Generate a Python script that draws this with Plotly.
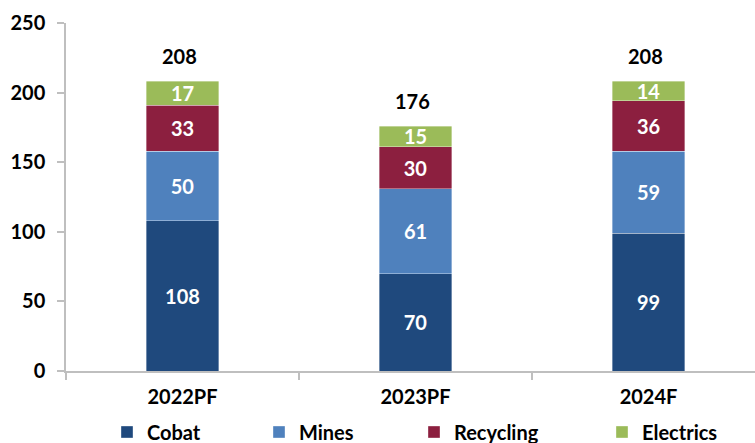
import plotly.graph_objects as go

# Categories and series values
years = ["2022PF", "2023PF", "2024F"]
cobat = [108, 70, 99]
mines = [50, 61, 59]
recycling = [33, 30, 36]
electrics = [17, 15, 14]

series_names = ["Cobat", "Mines", "Recycling", "Electrics"]
series_values = [cobat, mines, recycling, electrics]
series_colors = ["#1F497D", "#4F81BD", "#8C1F3F", "#9BBB59"]

totals = [sum(v) for v in zip(*series_values)]

FONT = "Lato"
TXT = 20
W, H = 755, 443

fig = go.Figure()

legend_ids = ["legend", "legend2", "legend3", "legend4"]
for name, vals, color, lg in zip(series_names, series_values, series_colors, legend_ids):
    fig.add_trace(go.Bar(
        x=years, y=vals, name=name,
        marker=dict(color=color, line=dict(color="rgba(255,255,255,0.6)", width=0.6)),
        width=0.313,
        text=vals, texttemplate="%{text}",
        textposition="inside", insidetextanchor="middle",
        textangle=0, constraintext="none",
        textfont=dict(family=FONT, size=TXT, color="white", weight="bold"),
        legend=lg,
    ))

# Totals above each stack
for yr, tot in zip(years, totals):
    fig.add_annotation(
        x=yr, y=tot, text=str(tot), showarrow=False,
        yanchor="bottom", xanchor="center", yshift=11, xshift=-3,
        font=dict(family=FONT, size=TXT, color="black", weight="bold"),
    )

PLOT_L, PLOT_T, PLOT_B = 66, 23, 371

# legend rows placed in container pixels so they don't shrink the plot area
legend_text_x = [147, 299, 454, 642]
legend_layout = {}
for lg, tx in zip(legend_ids, legend_text_x):
    legend_layout[lg] = dict(
        xref="container", x=(tx - 40) / W, xanchor="left",
        yref="container", y=1 - 432 / H, yanchor="middle",
        orientation="h", bgcolor="rgba(0,0,0,0)",
        font=dict(family=FONT, size=TXT, color="black", weight="bold"),
    )

axis_grey = "#BFBFBF"

fig.update_layout(
    width=W, height=H,
    margin=dict(l=PLOT_L, r=0, t=PLOT_T, b=H - PLOT_B, autoexpand=False),
    barmode="stack",
    paper_bgcolor="white", plot_bgcolor="white",
    showlegend=True,
    uniformtext=dict(minsize=TXT, mode="show"),
    xaxis=dict(
        type="category", range=[-0.5, 2.457], automargin=False,
        showline=True, linecolor=axis_grey, linewidth=1.5,
        ticks="outside", tickson="boundaries", ticklen=7, tickcolor=axis_grey, tickwidth=1.5,
        showgrid=False, zeroline=False,
        ticklabelstandoff=7,
        tickfont=dict(family=FONT, size=TXT, color="black", weight="bold"),
    ),
    yaxis=dict(
        range=[0, 250], tickvals=[0, 50, 100, 150, 200, 250], automargin=False,
        showline=True, linecolor=axis_grey, linewidth=1.5,
        ticks="outside", ticklen=7, tickcolor=axis_grey, tickwidth=1.5,
        showgrid=False, zeroline=False,
        ticklabelstandoff=8,
        tickfont=dict(family=FONT, size=TXT, color="black", weight="bold"),
    ),
    # companion axes drawing the inward half of the crossing tick marks
    xaxis2=dict(
        overlaying="x", anchor="y", side="bottom", type="linear",
        range=[-0.5, 2.457], tickvals=[-0.5, 0.5, 1.5, 2.5],
        ticks="inside", ticklen=7, tickcolor=axis_grey, tickwidth=1.5,
        showticklabels=False, showline=False, showgrid=False, zeroline=False,
    ),
    yaxis2=dict(
        overlaying="y", anchor="x", side="left",
        range=[0, 250], tickvals=[0, 50, 100, 150, 200, 250],
        ticks="inside", ticklen=7, tickcolor=axis_grey, tickwidth=1.5,
        showticklabels=False, showline=False, showgrid=False, zeroline=False,
    ),
    **legend_layout,
)

fig.write_html("out.html")
